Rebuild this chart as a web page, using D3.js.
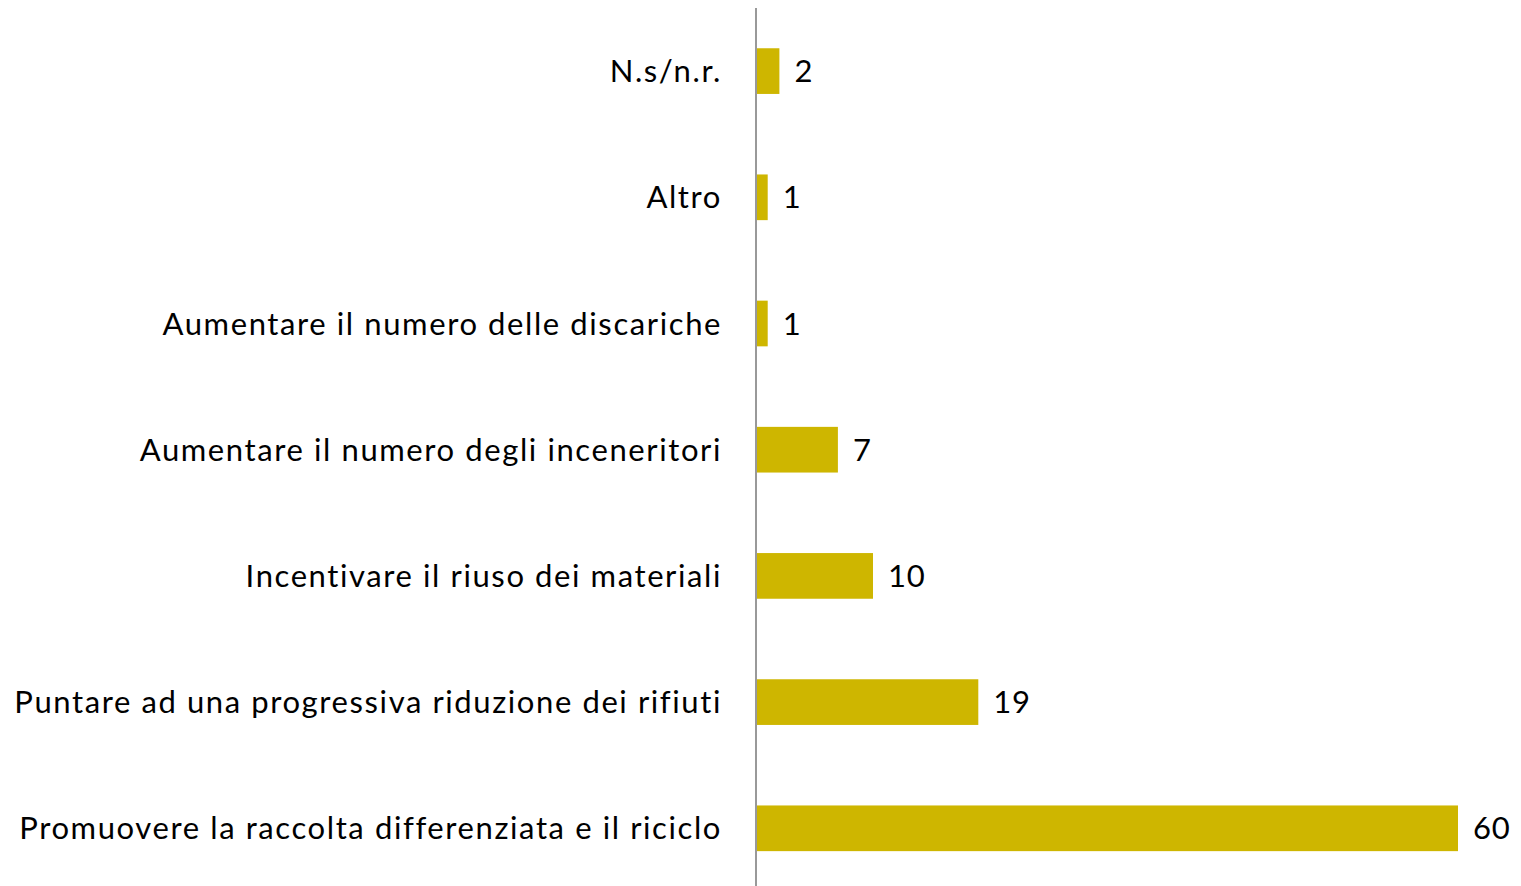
<!DOCTYPE html>
<html lang="it">
<head>
    <meta charset="UTF-8">
    <title>Bar chart</title>
    <script src="https://d3js.org/d3.v7.min.js"></script>
    <style>
        body { margin: 0; background: #fff; }
        .label, .value {
            font-family: Lato, "Open Sans", sans-serif;
            font-size: 31px;
            fill: #000;
        }
        .label { letter-spacing: 1.6px; }
        .value { letter-spacing: 0.8px; }
    </style>
</head>
<body>
    <svg width="1521" height="886"></svg>
    <script>
        // categories from top to bottom
        const categories = [
            "N.s/n.r.",
            "Altro",
            "Aumentare il numero delle discariche",
            "Aumentare il numero degli inceneritori",
            "Incentivare il riuso dei materiali",
            "Puntare ad una progressiva riduzione dei rifiuti",
            "Promuovere la raccolta differenziata e il riciclo"
        ];
        const values = [2, 1, 1, 7, 10, 19, 60];

        const width = 1521;
        const height = 886;
        const axisX = 756;

        const svg = d3.select("svg");

        const x = d3.scaleLinear()
            .domain([0, 60])
            .range([axisX, 1458]);

        const y = d3.scaleBand()
            .domain(categories)
            .range([8, 8 + 7 * 126.2])
            .paddingInner(0.638)
            .paddingOuter(0.319);

        svg.selectAll(".bar")
            .data(categories)
            .enter().append("rect")
            .attr("class", "bar")
            .attr("x", x(0))
            .attr("y", d => y(d))
            .attr("width", (d, i) => x(values[i]) - x(0))
            .attr("height", y.bandwidth())
            .attr("fill", "#CEB600");

        // category axis: line only, labels on the left
        svg.append("line")
            .attr("x1", axisX).attr("x2", axisX)
            .attr("y1", 8).attr("y2", height)
            .attr("stroke", "#999")
            .attr("stroke-width", 2);

        svg.selectAll(".label")
            .data(categories)
            .enter().append("text")
            .attr("class", "label")
            .attr("x", axisX - 34)
            .attr("y", d => y(d) + y.bandwidth() / 2)
            .attr("dy", "0.36em")
            .attr("text-anchor", "end")
            .text(d => d);

        svg.selectAll(".value")
            .data(categories)
            .enter().append("text")
            .attr("class", "value")
            .attr("x", (d, i) => x(values[i]) + 15)
            .attr("y", d => y(d) + y.bandwidth() / 2)
            .attr("dy", "0.36em")
            .text((d, i) => values[i]);
    </script>
</body>
</html>
